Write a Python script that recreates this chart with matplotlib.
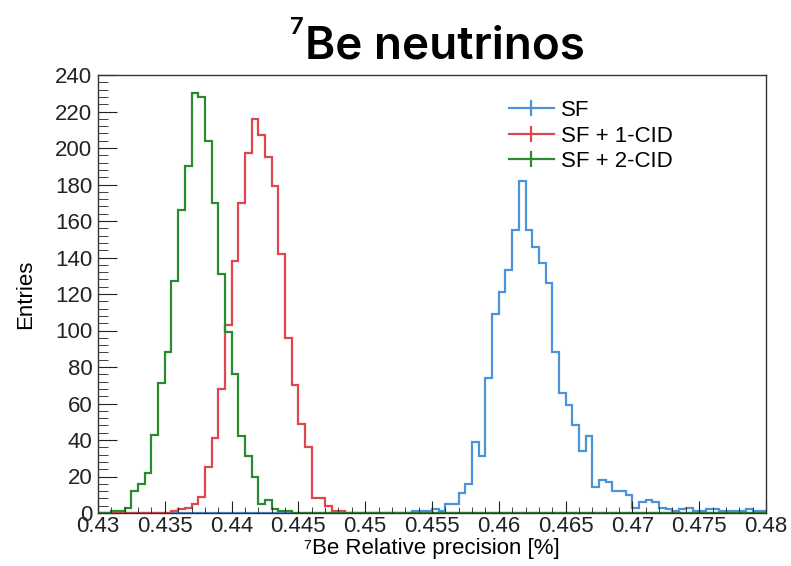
import numpy as np
import matplotlib.pyplot as plt
from matplotlib.lines import Line2D
from matplotlib.ticker import MultipleLocator

plt.rcParams['font.family'] = ['Liberation Sans', 'DejaVu Sans']

# 100 bins from 0.43 to 0.48
x_min, x_max, n_bins = 0.43, 0.48, 100
edges = np.linspace(x_min, x_max, n_bins + 1)

sf = [0] * 47 + [1, 1, 1, 2, 1, 5, 5, 11, 16, 39, 31, 74, 109, 121, 133, 155,
                 182, 155, 146, 137, 126, 88, 66, 59, 48, 34, 42, 14, 18, 17,
                 12, 12, 10, 3, 6, 7, 6, 3, 2, 1, 2, 3, 1, 1, 2, 2, 1, 1, 1,
                 1, 2, 1, 1]
sf_1cid = [0] * 11 + [1, 2, 3, 5, 9, 25, 41, 68, 103, 138, 170, 197, 216, 207,
                      195, 179, 142, 96, 70, 49, 36, 8, 8, 4, 1, 1]
sf_2cid = [0, 0, 1, 1, 3, 12, 16, 22, 43, 71, 88, 127, 166, 190, 230, 228, 204,
           170, 131, 99, 76, 42, 31, 20, 5, 7, 2, 1, 1]

sf = np.array(sf + [0] * (n_bins - len(sf)))
sf_1cid = np.array(sf_1cid + [0] * (n_bins - len(sf_1cid)))
sf_2cid = np.array(sf_2cid + [0] * (n_bins - len(sf_2cid)))

labels = ['SF', 'SF + 1-CID', 'SF + 2-CID']
colors = ['#4d93d9', '#e0474c', '#2a8a2e']

fig = plt.figure(figsize=(7.91, 5.66), dpi=100)
ax = fig.add_axes([98 / 791, 1 - 513 / 566, 668 / 791, 438 / 566])

for counts, c in zip([sf, sf_1cid, sf_2cid], colors):
    ax.stairs(counts, edges, color=c, lw=1.6)

ax.set_xlim(x_min, x_max)
ax.set_ylim(0, 240)
ax.xaxis.set_minor_locator(MultipleLocator(0.001))
ax.yaxis.set_major_locator(MultipleLocator(20))
ax.yaxis.set_minor_locator(MultipleLocator(4))
ax.set_xticks(np.arange(0.43, 0.4801, 0.005))
ax.set_xticklabels(['0.43', '0.435', '0.44', '0.445', '0.45', '0.455', '0.46',
                    '0.465', '0.47', '0.475', '0.48'])

ax.tick_params(axis='both', which='both', direction='in', top=False,
               right=False, colors='#222222', labelsize=16)
ax.tick_params(axis='y', which='major', length=14, pad=4)
ax.tick_params(axis='y', which='minor', length=7)
ax.tick_params(axis='x', which='major', length=8.5, pad=2)
ax.tick_params(axis='x', which='minor', length=4.3)
for s in ax.spines.values():
    s.set_color('#333333')
    s.set_linewidth(1.0)

ax.set_ylabel('Entries', fontsize=16, labelpad=14)
ax.set_xlabel('\u2077Be Relative precision [%]', fontsize=16, labelpad=1)

# legend without frame, errorbar-like markers
handles = [Line2D([], [], color=c, lw=1.6, marker='|', markersize=11,
                  markeredgewidth=1.6) for c in colors]
fig.legend(handles, labels, loc='upper left',
           bbox_to_anchor=(498 / 791, 1 - 89 / 566), frameon=False,
           fontsize=16, handlelength=2.0, handletextpad=0.35,
           labelspacing=0.2, borderpad=0)

# title
fig.text(305 / 791, 1 - 58 / 566, 'Be neutrinos', fontsize=33,
         family=['Inter', 'DejaVu Sans'], weight='semibold',
         ha='left', va='baseline')
fig.text(290 / 791, 1 - 34 / 566, '7', fontsize=17,
         family=['Inter', 'DejaVu Sans'], weight='semibold',
         ha='left', va='baseline')

fig.savefig('out.png', dpi=100)
